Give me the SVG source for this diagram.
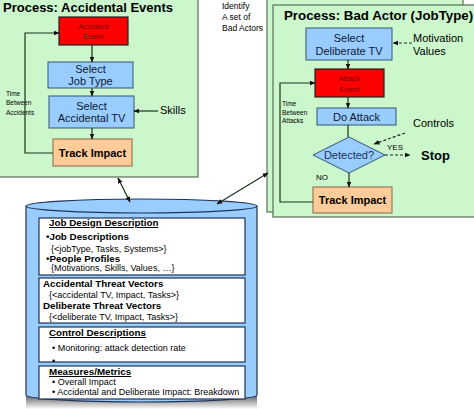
<svg xmlns="http://www.w3.org/2000/svg" width="474" height="409" viewBox="0 0 474 409">
<defs>
<style>
text{font-family:"Liberation Sans",Arial,sans-serif;fill:#000}
.pg{fill:#ccf7cc;stroke:#557055;stroke-width:1.2}
.blue{fill:#99ccff;stroke:#335577;stroke-width:1}
.red{fill:#ff0000;stroke:#222;stroke-width:1.2}
.org{fill:#ffcc99;stroke:#886644;stroke-width:1}
.ln{fill:none;stroke:#1a331a;stroke-width:1.2}
.dash{fill:none;stroke:#222;stroke-width:1.2;stroke-dasharray:3,2}
.title{font-size:13px;font-weight:bold}
.box{font-size:11px;text-anchor:middle;fill:#0d1a33}
.rt{font-size:8px;text-anchor:middle;fill:#7a0000}
.small{font-size:6.5px}
.lbl{font-size:11px}
.ti{font-size:11px;font-weight:bold;text-anchor:middle}
.wb{fill:#fff;stroke:#223355;stroke-width:1.2}
.h{font-size:9.8px;font-weight:bold;text-decoration:underline}
.b{font-size:9.8px;font-weight:bold}
.t{font-size:9px}
.id{font-size:8.5px}
</style>
<marker id="ah" viewBox="0 0 10 10" refX="9" refY="5" markerWidth="5" markerHeight="5" orient="auto-start-reverse"><path d="M0,1 L10,5 L0,9 z" fill="#111"/></marker>
<clipPath id="c3"><rect x="39" y="327" width="206" height="35"/></clipPath>
<clipPath id="c4"><rect x="39" y="366" width="206" height="33"/></clipPath>
<linearGradient id="sh" x1="0" y1="0" x2="0" y2="1"><stop offset="0" stop-color="#333"/><stop offset="1" stop-color="#fff"/></linearGradient>
</defs>

<g id="process-accidental">
<rect class="pg" x="-2" y="-2" width="200" height="179"/>
<text class="title" x="3" y="12">Process: Accidental Events</text>
</g>

<g id="accident-event">
<rect class="red" x="59" y="17" width="69" height="28"/>
<text class="rt" x="93.5" y="29">Accident</text>
<text class="rt" x="93.5" y="39">Event</text>
</g>
<g id="select-job-type">
<rect class="blue" x="48" y="62" width="85" height="26"/>
<text class="box" x="90.5" y="73">Select</text>
<text class="box" x="90.5" y="85">Job Type</text>
</g>
<g id="select-accidental-tv">
<rect class="blue" x="49" y="96" width="85" height="32"/>
<text class="box" x="91.5" y="110">Select</text>
<text class="box" x="91.5" y="122">Accidental TV</text>
</g>
<g id="track-impact-1">
<rect class="org" x="53" y="139" width="79" height="27"/>
<text class="ti" x="92.5" y="157">Track Impact</text>
</g>
<g id="skills"><text class="lbl" x="160" y="114">Skills</text></g>
<g id="time-accidents">
<text class="small" x="6" y="96">Time</text>
<text class="small" x="6" y="105">Between</text>
<text class="small" x="6" y="115">Accidents</text>
</g>

<g id="identify">
<text class="id" x="222" y="9">Identify</text>
<text class="id" x="222" y="20">A set of</text>
<text class="id" x="222" y="31">Bad Actors</text>
</g>

<g id="process-bad-actor">
<rect class="pg" x="267" y="-3" width="196" height="215"/>
<rect class="pg" x="273" y="5" width="205" height="212"/>
<text class="title" x="284" y="20" style="font-size:13.3px">Process: Bad Actor (JobType)</text>
</g>
<g id="select-deliberate-tv">
<rect class="blue" x="306" y="28" width="86" height="32"/>
<text class="box" x="349" y="42">Select</text>
<text class="box" x="349" y="55">Deliberate TV</text>
</g>
<g id="attack-event">
<rect class="red" x="315" y="69" width="69" height="28"/>
<text class="rt" x="349.5" y="81">Attack</text>
<text class="rt" x="349.5" y="92">Event</text>
</g>
<g id="do-attack">
<rect class="blue" x="317" y="108" width="79" height="17"/>
<text class="box" x="356.5" y="121">Do Attack</text>
</g>
<g id="detected">
<polygon points="349,137 385,155 349,173 313,155" fill="#99ccff" stroke="#335577" stroke-width="1"/>
<text class="box" x="349" y="159" style="fill:#1a3355">Detected?</text>
</g>
<g id="track-impact-2">
<rect class="org" x="313" y="187" width="79" height="26"/>
<text class="ti" x="352.5" y="204">Track Impact</text>
</g>
<g id="motivation">
<text class="lbl" x="413" y="42">Motivation</text>
<text class="lbl" x="413" y="55">Values</text>
</g>
<g id="controls"><text class="lbl" x="413" y="127">Controls</text></g>
<g id="yes"><text class="t" x="387" y="150" style="font-size:8px">YES</text></g>
<g id="stop"><text class="title" x="421" y="160">Stop</text></g>
<g id="no"><text class="t" x="316" y="180" style="font-size:8px">NO</text></g>
<g id="time-attacks">
<text class="small" x="282" y="106">Time</text>
<text class="small" x="282" y="115">Between</text>
<text class="small" x="282" y="123">Attacks</text>
</g>

<g id="database">
<rect x="26" y="395" width="231" height="14" fill="url(#sh)" opacity="0.8"/>
<path d="M26,206 L26,395 A115.5,7 0 0 0 257,395 L257,206" fill="#99ccff" stroke="#223355" stroke-width="1.2"/>
<ellipse cx="141.5" cy="206" rx="115.5" ry="7" fill="#99ccff" stroke="#223355" stroke-width="1.2"/>
<rect class="wb" x="39" y="218" width="206" height="57"/>
<rect class="wb" x="39" y="278" width="206" height="45"/>
<rect class="wb" x="39" y="327" width="206" height="35"/>
<rect class="wb" x="39" y="366" width="206" height="33"/>
<text class="h" x="49" y="226">Job Design Description</text>
<text class="b" x="46" y="240">•Job Descriptions</text>
<text class="t" x="51" y="252">{&lt;jobType, Tasks, Systems&gt;}</text>
<text class="b" x="46" y="262">•People Profiles</text>
<text class="t" x="51" y="271">{Motivations, Skills, Values, …}</text>
<text class="b" x="43" y="287">Accidental Threat Vectors</text>
<text class="t" x="49" y="298">{&lt;accidental TV, Impact, Tasks&gt;}</text>
<text class="b" x="43" y="309">Deliberate Threat Vectors</text>
<text class="t" x="49" y="320">{&lt;deliberate TV, Impact, Tasks&gt;}</text>
<text class="h" x="49" y="336">Control Descriptions</text>
<g clip-path="url(#c3)">
<text class="t" x="52" y="351">•  Monitoring: attack detection rate</text>
<text class="t" x="52" y="364">•  …</text>
</g>
<text class="h" x="49" y="375">Measures/Metrics</text>
<g clip-path="url(#c4)">
<text class="t" x="52" y="385">•  Overall Impact</text>
<text class="t" x="52" y="395">•  Accidental and Deliberate Impact: Breakdown</text>
</g>
</g>

<g id="connectors">
<path class="ln" d="M92,45 L92,62" marker-end="url(#ah)"/>
<path class="ln" d="M92,88 L92,96" marker-end="url(#ah)"/>
<path class="ln" d="M92,128 L92,139" marker-end="url(#ah)"/>
<path class="ln" d="M53,153 L25,153 L25,33 L59,33" marker-end="url(#ah)"/>
<path class="ln" d="M158,111 L134,111" marker-end="url(#ah)"/>
<path class="ln" d="M348,60 L348,69" marker-end="url(#ah)"/>
<path class="ln" d="M348,97 L348,108" marker-end="url(#ah)"/>
<path class="ln" d="M348,125 L348,137"/>
<path class="ln" d="M349,173 L349,187" marker-end="url(#ah)"/>
<path class="ln" d="M313,202 L280,202 L280,83 L315,83" marker-end="url(#ah)"/>
<path class="dash" d="M412,43 L393,43" marker-end="url(#ah)"/>
<path class="dash" d="M405,133 L374,144" marker-end="url(#ah)"/>
<path class="dash" d="M385,155 L410,155" marker-end="url(#ah)"/>
<path class="ln" d="M118,178 L130,202" marker-start="url(#ah)" marker-end="url(#ah)"/>
<path class="ln" d="M268,173 L217,204" marker-start="url(#ah)" marker-end="url(#ah)"/>
</g>
</svg>
